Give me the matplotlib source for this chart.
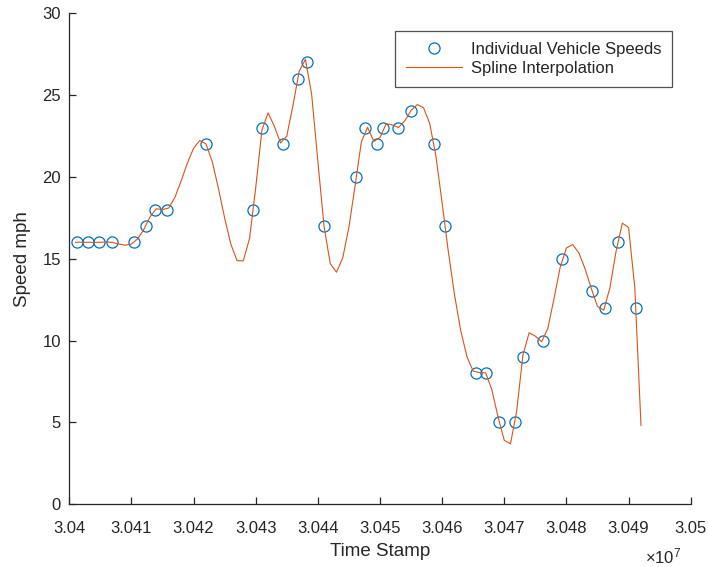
import numpy as np
import matplotlib
matplotlib.use("Agg")
import matplotlib.pyplot as plt
from matplotlib.ticker import FixedLocator, FuncFormatter

plt.rcParams["font.family"] = ["Liberation Sans", "DejaVu Sans"]
plt.rcParams["mathtext.fontset"] = "custom"
plt.rcParams["mathtext.rm"] = "Liberation Sans"
plt.rcParams["mathtext.it"] = "Liberation Sans"

# Observed vehicle passages: time stamp and speed (mph)
time_stamp = [
    30401190, 30402960, 30404830, 30406820, 30410460, 30412290, 30413790,
    30415670, 30422000, 30429640, 30431060, 30434440, 30436760, 30438200,
    30440990, 30446190, 30447590, 30449440, 30450560, 30452900, 30454910,
    30458690, 30460460, 30465450, 30467060, 30469200, 30471770, 30472960,
    30476280, 30479340, 30484150, 30486210, 30488250, 30491200,
]
speed = [
    16, 16, 16, 16, 16, 17, 18,
    18, 22, 18, 23, 22, 26, 27,
    17, 20, 23, 22, 23, 23, 24,
    22, 17, 8, 8, 5, 5, 9,
    10, 15, 13, 12, 16, 12,
]

# Evaluation grid for the fitted curve
grid_start = 30401000
grid_stop = 30492000
grid_step = 1000

x_ticks = [30400000 + 10000 * k for k in range(11)]
y_ticks = [0, 5, 10, 15, 20, 25, 30]


def not_a_knot_spline(x, y, xq):
    """Cubic spline with not-a-knot end conditions, evaluated at xq."""
    x = np.asarray(x, float)
    y = np.asarray(y, float)
    x0 = x[0]
    scale = 1000.0
    u = (x - x0) / scale
    uq = (np.asarray(xq, float) - x0) / scale
    n = len(u)
    h = np.diff(u)
    A = np.zeros((n, n))
    b = np.zeros(n)
    A[0, 0], A[0, 1], A[0, 2] = h[1], -(h[0] + h[1]), h[0]
    for i in range(1, n - 1):
        A[i, i - 1] = h[i - 1]
        A[i, i] = 2 * (h[i - 1] + h[i])
        A[i, i + 1] = h[i]
        b[i] = 6 * ((y[i + 1] - y[i]) / h[i] - (y[i] - y[i - 1]) / h[i - 1])
    A[-1, -3], A[-1, -2], A[-1, -1] = h[-1], -(h[-2] + h[-1]), h[-2]
    M = np.linalg.solve(A, b)
    idx = np.clip(np.searchsorted(u, uq) - 1, 0, n - 2)
    xi, xj = u[idx], u[idx + 1]
    hi = h[idx]
    Mi, Mj = M[idx], M[idx + 1]
    yi, yj = y[idx], y[idx + 1]
    return (Mi * (xj - uq) ** 3 / (6 * hi) + Mj * (uq - xi) ** 3 / (6 * hi)
            + (yi / hi - Mi * hi / 6) * (xj - uq)
            + (yj / hi - Mj * hi / 6) * (uq - xi))


tq = np.arange(grid_start, grid_stop + 1, grid_step)
vq = not_a_knot_spline(time_stamp, speed, tq)

fig = plt.figure(figsize=(7.09, 5.67), dpi=100)
ax = fig.add_axes([0.0977, 0.1106, 0.8765, 0.8664])

axis_col = "#262626"
ax.plot(time_stamp, speed, "o", linestyle="none", markerfacecolor="none",
        markeredgecolor="#0072BD", markeredgewidth=0.9, markersize=8,
        label="Individual Vehicle Speeds")
ax.plot(tq, vq, "-", color="#D95319", linewidth=0.8,
        label="Spline Interpolation")

ax.set_xlim(30400000, 30500000)
ax.set_ylim(0, 30)
ax.xaxis.set_major_locator(FixedLocator(x_ticks))
ax.yaxis.set_major_locator(FixedLocator(y_ticks))
ax.xaxis.set_major_formatter(FuncFormatter(lambda v, p: f"{v / 1e7:g}"))
ax.yaxis.set_major_formatter(FuncFormatter(lambda v, p: f"{v:g}"))

for side in ("top", "right"):
    ax.spines[side].set_visible(False)
for side in ("left", "bottom"):
    ax.spines[side].set_color(axis_col)
    ax.spines[side].set_linewidth(0.9)
ax.tick_params(direction="in", length=5, width=0.9, colors=axis_col,
               labelsize=12, labelcolor=axis_col)
ax.tick_params(axis="x", pad=12)
ax.tick_params(axis="y", pad=6)

ax.set_xlabel("Time Stamp", fontsize=13.5, color=axis_col, labelpad=5)
ax.set_ylabel("Speed mph", fontsize=13.5, color=axis_col, labelpad=8)

fig.text(645 / 709, 1 - 563 / 567, r"$\times 10^{7}$", fontsize=12,
         color=axis_col, ha="left", va="baseline")

leg = ax.legend(loc="upper right", bbox_to_anchor=(0.970, 0.963),
                borderaxespad=0, fontsize=12, frameon=True, fancybox=False,
                handlelength=3.4, handletextpad=0.5, labelspacing=0.25,
                borderpad=0.65, numpoints=1)
leg.get_frame().set_edgecolor(axis_col)
leg.get_frame().set_linewidth(0.9)
for t in leg.get_texts():
    t.set_color(axis_col)

fig.savefig("out.png", dpi=100)
